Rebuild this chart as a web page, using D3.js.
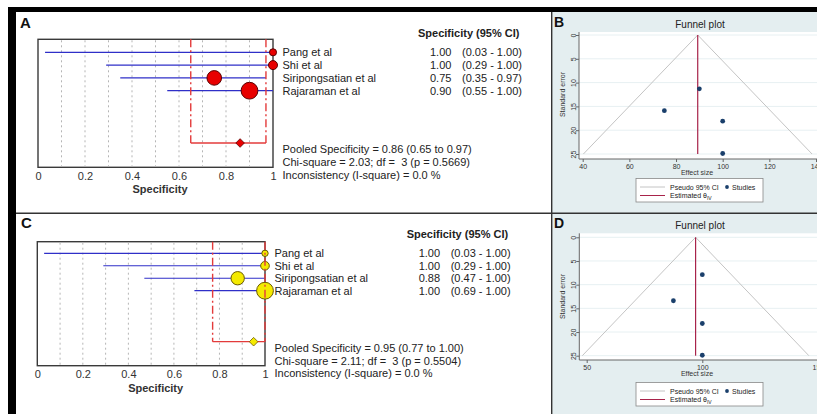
<!DOCTYPE html>
<html><head><meta charset="utf-8">
<script src="https://cdn.jsdelivr.net/npm/d3@7"></script>
<style>
body{margin:0;background:#fff}
svg{display:block}
text{font-family:'Liberation Sans',Arial,sans-serif;white-space:pre}
</style></head><body>
<svg id="c" width="817" height="414"></svg>
<script>
// ---------- data ----------
const studies = ["Pang et al", "Shi et al", "Siripongsatian et al", "Rajaraman et al"];
const forestTicks = [0, 0.2, 0.4, 0.6, 0.8, 1];

const specA = [1.00, 1.00, 0.75, 0.90];
const lowA = [0.03, 0.29, 0.35, 0.55];
const highA = [1.00, 1.00, 0.97, 1.00];
const weightA = [8, 13, 34, 45];
const pooledA = [0.86, 0.65, 0.97];
const statsA = ["Pooled Specificity = 0.86 (0.65 to 0.97)", "Chi-square = 2.03; df =  3 (p = 0.5669)", "Inconsistency (I-square) = 0.0 %"];

const specC = [1.00, 1.00, 0.88, 1.00];
const lowC = [0.03, 0.29, 0.47, 0.69];
const highC = [1.00, 1.00, 1.00, 1.00];
const weightC = [7, 13, 31, 49];
const pooledC = [0.95, 0.77, 1.00];
const statsC = ["Pooled Specificity = 0.95 (0.77 to 1.00)", "Chi-square = 2.11; df =  3 (p = 0.5504)", "Inconsistency (I-square) = 0.0 %"];

const seTicks = [0, 5, 10, 15, 20, 25];
const effectB = [90, 75, 100, 100];
const seB = [11.3, 15.9, 18.1, 24.9];
const thetaB = 89.3;
const xTicksB = [40, 60, 80, 100, 120, 140];

const effectD = [100, 87.5, 100, 100];
const seD = [7.9, 13.4, 18.2, 24.9];
const thetaD = 97.1;
const xTicksD = [50, 100, 150];

// ---------- drawing ----------
const svg = d3.select("#c");
const fmt2 = d3.format(".2f");

function forest(o) {
  const g = svg.append("g");
  const x = d3.scaleLinear().domain([0, 1]).range([o.x0, o.x1]);
  const y = d3.scalePoint().domain(studies).range([o.r0, o.r1]);
  const r = d3.scaleSqrt().domain([0, d3.max(o.w)]).range([0, o.rmax]);
  const rows = studies.map((s, i) => ({s, v: o.v[i], lo: o.lo[i], hi: o.hi[i], w: o.w[i]}));

  g.append("rect").attr("x", o.x0).attr("y", o.top).attr("width", o.x1 - o.x0).attr("height", o.bottom - o.top)
    .attr("fill", "#fff").attr("stroke", "#3a3a3a").attr("stroke-width", 1.4);
  g.selectAll(".gl").data(d3.range(1, 10).map(i => i / 10)).join("line")
    .attr("x1", d => x(d)).attr("x2", d => x(d)).attr("y1", o.top + 1).attr("y2", o.bottom - 1)
    .attr("stroke", "#b5b5b5").attr("stroke-dasharray", "2,3").attr("stroke-width", 1);

  g.selectAll(".ci").data(rows).join("line")
    .attr("x1", d => x(d.lo)).attr("x2", d => x(d.hi)).attr("y1", d => y(d.s)).attr("y2", d => y(d.s))
    .attr("stroke", "#2f2fc8").attr("stroke-width", 1.2);
  g.selectAll(".pt").data(rows).join("circle")
    .attr("cx", d => x(d.v)).attr("cy", d => y(d.s)).attr("r", d => r(d.w))
    .attr("fill", o.fill).attr("stroke", o.edge).attr("stroke-width", 1);

  // pooled CI
  const red = "#e33b3b";
  [o.pooled[1], o.pooled[2]].forEach(v => {
    g.append("line").attr("x1", x(v)).attr("x2", x(v)).attr("y1", o.top).attr("y2", o.py)
      .attr("stroke", red).attr("stroke-width", 1.4).attr("stroke-dasharray", "8,3,2,3");
  });
  g.append("line").attr("x1", x(o.pooled[1])).attr("x2", x(o.pooled[2])).attr("y1", o.py).attr("y2", o.py)
    .attr("stroke", red).attr("stroke-width", 1.3);
  const cx = x(o.pooled[0]), h = 4.3;
  g.append("path").attr("d", `M${cx - h},${o.py}L${cx},${o.py - h}L${cx + h},${o.py}L${cx},${o.py + h}Z`)
    .attr("fill", o.fill).attr("stroke", o.edge).attr("stroke-width", 0.8);

  // axis
  const ax = g.append("g").attr("transform", `translate(0,${o.bottom})`)
    .call(d3.axisBottom(x).tickValues(forestTicks).tickSize(0).tickPadding(5)
      .tickFormat(d => (d === 0 || d === 1) ? d3.format("d")(d) : d3.format(".1f")(d)));
  ax.select(".domain").remove();
  ax.selectAll("text").attr("font-size", 11).attr("fill", "#333").attr("font-family", "'Liberation Sans',Arial,sans-serif");
  g.append("text").attr("x", (o.x0 + o.x1) / 2 + 4.5).attr("y", o.bottom + 26).attr("text-anchor", "middle")
    .attr("font-size", 11).attr("font-weight", "bold").attr("fill", "#333").text("Specificity");

  // right text
  const tx = o.x1 + 9.5;
  g.append("text").attr("x", o.hx).attr("y", o.r0 - 15.5).attr("font-size", 11).attr("font-weight", "bold")
    .attr("fill", "#222").text("Specificity (95% CI)");
  g.selectAll(".nm").data(rows).join("text").attr("x", tx).attr("y", d => y(d.s) + 4)
    .attr("font-size", 11).attr("fill", "#222").text(d => d.s);
  g.selectAll(".vl").data(rows).join("text").attr("x", o.hx + 12).attr("y", d => y(d.s) + 4)
    .attr("font-size", 11).attr("fill", "#222").text(d => fmt2(d.v));
  g.selectAll(".cl").data(rows).join("text").attr("x", o.hx + 44).attr("y", d => y(d.s) + 4)
    .attr("font-size", 11).attr("fill", "#222").text(d => `(${fmt2(d.lo)} - ${fmt2(d.hi)})`);
  g.selectAll(".st").data(o.stats).join("text").attr("x", tx).attr("y", (d, i) => o.py + 10 + i * 12.8)
    .attr("font-size", 11).attr("fill", "#222").text(d => d);

  g.append("text").attr("x", o.lx).attr("y", o.ly).attr("font-size", 15).attr("font-weight", "bold")
    .attr("fill", "#111").text(o.label);
}

function funnel(o) {
  const g = svg.append("g");
  const x = d3.scaleLinear().domain(o.xd).range(o.xr);
  const y = d3.scaleLinear().domain([0, 25]).range(o.yr);
  g.append("rect").attr("x", o.px0).attr("y", o.py0).attr("width", 830 - o.px0).attr("height", o.py1 - o.py0).attr("fill", "#fff");
  g.selectAll(".gr").data(seTicks).join("line").attr("x1", o.px0).attr("x2", 830)
    .attr("y1", d => y(d)).attr("y2", d => y(d)).attr("stroke", "#e7f0f2").attr("stroke-width", 1);

  const lo = o.theta - 1.96 * 25, hi = o.theta + 1.96 * 25;
  g.append("path").attr("d", `M${x(lo)},${y(25)}L${x(o.theta)},${y(0)}L${x(hi)},${y(25)}`)
    .attr("fill", "none").attr("stroke", "#c4c4c4").attr("stroke-width", 1);
  g.append("line").attr("x1", x(o.theta)).attr("x2", x(o.theta)).attr("y1", y(0)).attr("y2", y(25))
    .attr("stroke", "#a8234a").attr("stroke-width", 1.2);
  g.selectAll(".dt").data(o.eff.map((e, i) => ({e, s: o.se[i]}))).join("circle")
    .attr("cx", d => x(d.e)).attr("cy", d => y(d.s)).attr("r", 2.4).attr("fill", "#1a3f6b");

  // axes
  const ya = g.append("g").attr("transform", `translate(${o.px0},0)`)
    .call(d3.axisLeft(y).tickValues(seTicks).tickSize(3).tickPadding(0));
  ya.select(".domain").attr("d", `M0,${o.py0}V${o.py1}`).attr("stroke", "#666");
  ya.selectAll(".tick line").attr("stroke", "#666");
  ya.selectAll("text").attr("x", 0).attr("dy", 0).attr("text-anchor", "middle")
    .attr("transform", "translate(-3.5,0) rotate(-90)").attr("font-size", 7).attr("fill", "#333");
  const xa = g.append("g").attr("transform", `translate(0,${o.py1})`)
    .call(d3.axisBottom(x).tickValues(o.xt).tickSize(3).tickPadding(2));
  xa.select(".domain").attr("d", `M${o.px0},0H830`).attr("stroke", "#666");
  xa.selectAll(".tick line").attr("stroke", "#666");
  xa.selectAll("text").attr("font-size", 7).attr("fill", "#333");

  g.append("text").attr("transform", `translate(${o.px0 - 14},${(o.yr[0] + o.yr[1]) / 2}) rotate(-90)`)
    .attr("text-anchor", "middle").attr("font-size", 7).attr("fill", "#333").text("Standard error");
  g.append("text").attr("x", 697).attr("y", o.py1 + 16).attr("text-anchor", "middle")
    .attr("font-size", 7).attr("fill", "#333").text("Effect size");
  g.append("text").attr("x", 700).attr("y", o.py0 - 4).attr("text-anchor", "middle")
    .attr("font-size", 10).attr("fill", "#222").text("Funnel plot");
  g.append("text").attr("x", 554).attr("y", o.py0 - 5).attr("font-size", 14).attr("font-weight", "bold")
    .attr("fill", "#111").text(o.label);

  // legend
  const lg = g.append("g").attr("transform", `translate(636,${o.ly})`);
  lg.append("rect").attr("width", 127).attr("height", 23.5).attr("fill", "#fff").attr("stroke", "#888").attr("stroke-width", 0.8);
  lg.append("line").attr("x1", 4).attr("x2", 29).attr("y1", 8.5).attr("y2", 8.5).attr("stroke", "#c4c4c4");
  lg.append("text").attr("x", 34).attr("y", 11).attr("font-size", 7).attr("fill", "#222").text("Pseudo 95% CI");
  lg.append("circle").attr("cx", 91).attr("cy", 8.5).attr("r", 1.9).attr("fill", "#1a3f6b");
  lg.append("text").attr("x", 96).attr("y", 11).attr("font-size", 7).attr("fill", "#222").text("Studies");
  lg.append("line").attr("x1", 4).attr("x2", 29).attr("y1", 17).attr("y2", 17).attr("stroke", "#a8234a");
  const t = lg.append("text").attr("x", 34).attr("y", 19.5).attr("font-size", 7).attr("fill", "#222");
  t.append("tspan").text("Estimated θ");
  t.append("tspan").attr("font-size", 5).attr("dy", 1.5).text("IV");
}

// right backgrounds
svg.append("rect").attr("x", 552).attr("y", 12).attr("width", 265).attr("height", 402).attr("fill", "#e4eef0");

forest({x0: 38, x1: 273, top: 39.3, bottom: 167.3, r0: 52.3, r1: 90.7, py: 143, rmax: 8.4,
  v: specA, lo: lowA, hi: highA, w: weightA, pooled: pooledA, stats: statsA,
  fill: "#e80000", edge: "#5a0000", hx: 418, lx: 20, ly: 28, label: "A"});
forest({x0: 37.3, x1: 265, top: 241.7, bottom: 365.7, r0: 253.3, r1: 290.7, py: 341.7, rmax: 8.4,
  v: specC, lo: lowC, hi: highC, w: weightC, pooled: pooledC, stats: statsC,
  fill: "#f4ea00", edge: "#6b5a00", hx: 406.7, lx: 21, ly: 228, label: "C"});

funnel({xd: [40, 140], xr: [582.7, 816], yr: [35, 154], px0: 579, py0: 32, py1: 159,
  theta: thetaB, eff: effectB, se: seB, xt: xTicksB, ly: 178.5, label: "B"});
funnel({xd: [50, 100], xr: [586.7, 702.3], yr: [237.3, 355.7], py0: 233.3, py1: 360, px0: 579.3,
  theta: thetaD, eff: effectD, se: seD, xt: xTicksD, ly: 382.5, label: "D"});

// frame
svg.append("rect").attr("x", 8).attr("y", 7).attr("width", 809).attr("height", 5).attr("fill", "#000");
svg.append("rect").attr("x", 8).attr("y", 7).attr("width", 8).attr("height", 407).attr("fill", "#000");
svg.append("line").attr("x1", 16).attr("x2", 817).attr("y1", 213.3).attr("y2", 213.3).attr("stroke", "#333").attr("stroke-width", 1.4);
svg.append("line").attr("x1", 551.7).attr("x2", 551.7).attr("y1", 12).attr("y2", 414).attr("stroke", "#333").attr("stroke-width", 1.4);
</script></body></html>
